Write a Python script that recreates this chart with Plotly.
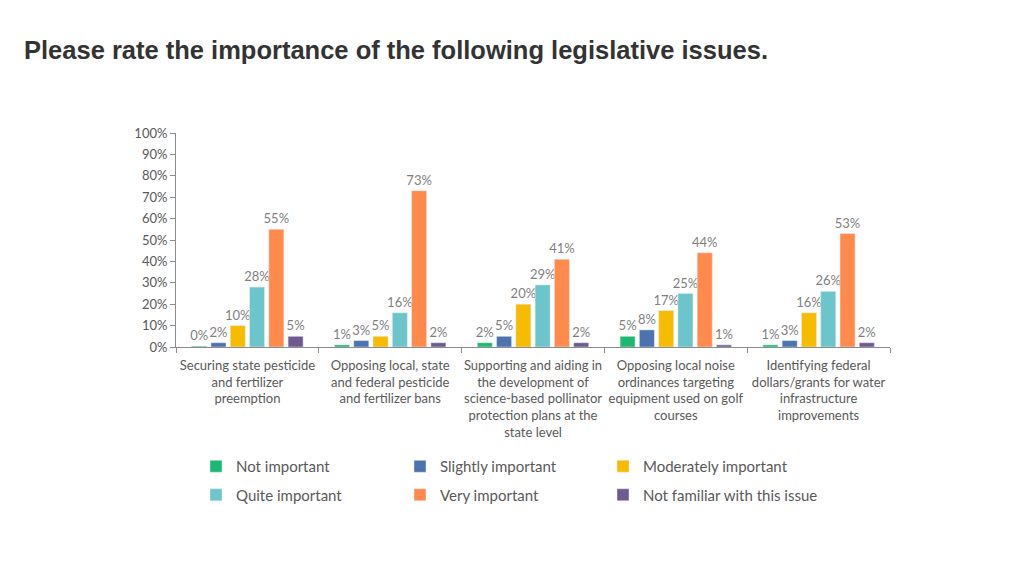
import plotly.graph_objects as go

categories = [
    "Securing state pesticide<br>and fertilizer<br>preemption",
    "Opposing local, state<br>and federal pesticide<br>and fertilizer bans",
    "Supporting and aiding in<br>the development of<br>science-based pollinator<br>protection plans at the<br>state level",
    "Opposing local noise<br>ordinances targeting<br>equipment used on golf<br>courses",
    "Identifying federal<br>dollars/grants for water<br>infrastructure<br>improvements",
]
series_names = ["Not important", "Slightly important", "Moderately important",
                "Quite important", "Very important", "Not familiar with this issue"]
not_important = [0.004, 0.01, 0.02, 0.05, 0.01]
slightly_important = [0.02, 0.03, 0.05, 0.08, 0.03]
moderately_important = [0.10, 0.05, 0.20, 0.17, 0.16]
quite_important = [0.28, 0.16, 0.29, 0.25, 0.26]
very_important = [0.55, 0.73, 0.41, 0.44, 0.53]
not_familiar = [0.05, 0.02, 0.02, 0.01, 0.02]
label_values = [
    [0, 1, 2, 5, 1],
    [2, 3, 5, 8, 3],
    [10, 5, 20, 17, 16],
    [28, 16, 29, 25, 26],
    [55, 73, 41, 44, 53],
    [5, 2, 2, 1, 2],
]
y_ticks = [0, 0.1, 0.2, 0.3, 0.4, 0.5, 0.6, 0.7, 0.8, 0.9, 1.0]

colors = ["#1DB872", "#4C72B0", "#F7BC00", "#6CC5CA", "#FF8A4C", "#6E5A8F"]
values = [not_important, slightly_important, moderately_important,
          quite_important, very_important, not_familiar]

# legend columns: series i goes in column i % 3 (two rows of three)
legend_ids = ["legend", "legend2", "legend3"]

fig = go.Figure()
for i, (name, vals, col, labs) in enumerate(zip(series_names, values, colors, label_values)):
    fig.add_trace(go.Bar(
        name=name, x=categories, y=vals, marker_color=col,
        text=[f"{v}%" for v in labs], textposition="outside",
        constraintext="none",
        textfont=dict(family="Lato", size=13, color="#7F7F7F"),
        cliponaxis=False,
        legend=legend_ids[i % 3],
        legendgroup=f"g{i}",
        legendrank=i,
    ))

# page body adds an 8px offset; layout numbers below compensate for it
plot_w = 1024 - 168 - 142
plot_h = 576 - 125 - 237

def px_x(px):
    return (px - 8 - 168) / plot_w

def px_y(py):
    return (576 - 237 - (py - 8)) / plot_h

legend_common = dict(orientation="v", xanchor="left", yanchor="top",
                     traceorder="grouped", tracegroupgap=6,
                     font=dict(family="Lato", size=15, color="#595959"),
                     bgcolor="rgba(0,0,0,0)", itemclick=False, itemdoubleclick=False)

col_x = [196, 400, 603]
top_y = 450
fig.update_layout(
    width=1024, height=576,
    paper_bgcolor="white", plot_bgcolor="white",
    margin=dict(l=168, r=142, t=125, b=237),
    barmode="group", bargap=0.19, bargroupgap=0.22,
    showlegend=True,
    legend=dict(x=px_x(col_x[0]), y=px_y(top_y), **legend_common),
    legend2=dict(x=px_x(col_x[1]), y=px_y(top_y), **legend_common),
    legend3=dict(x=px_x(col_x[2]), y=px_y(top_y), **legend_common),
    title=dict(text="<b>Please rate the importance of the following legislative issues.</b>",
               x=16 / 1024, xanchor="left", y=1 - 42 / 576, yanchor="middle",
               font=dict(family="Liberation Sans", size=25.5, color="#333333")),
    xaxis=dict(type="category", showline=True, linecolor="#8C8C8C", linewidth=1,
               ticks="outside", tickson="boundaries", ticklen=5, tickcolor="#8C8C8C",
               tickfont=dict(family="Lato", size=13, color="#595959"),
               tickangle=0, ticklabelstandoff=6, showgrid=False),
    yaxis=dict(range=[0, 1], tickvals=y_ticks, tickformat=".0%",
               showline=True, linecolor="#8C8C8C", linewidth=1,
               ticks="outside", ticklen=5, tickcolor="#8C8C8C",
               tickfont=dict(family="Lato", size=13, color="#595959"),
               showgrid=False, zeroline=False),
)

fig.write_html("out.html")
